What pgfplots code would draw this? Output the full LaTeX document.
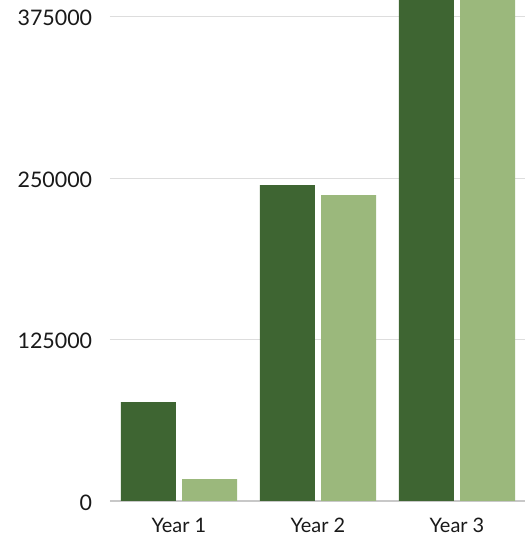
\documentclass[border=0pt]{standalone}
\usepackage{pgfplots}
\pgfplotsset{compat=1.18}
\usepackage{fontspec}
\setmainfont{Lato}
\definecolor{darkg}{HTML}{3E6532}
\definecolor{lightg}{HTML}{9BB87C}
\definecolor{gridg}{HTML}{DDDDDD}
\definecolor{axg}{HTML}{C8C8C8}
\begin{document}
\fontsize{20}{24}\selectfont
\begin{tikzpicture}
\begin{axis}[
  scale only axis,
  width=415bp, height=501bp,
  xmin=-0.496, xmax=2.489,
  ymin=0, ymax=388000,
  xtick={0,1,2},
  xticklabels={Year 1,Year 2,Year 3},
  ytick={0,125000,250000,375000},
  scaled y ticks=false,
  /pgf/number format/.cd, fixed, 1000 sep={}, assume math mode=true,
  /pgfplots/.cd,
  ymajorgrids,
  grid style={gridg, line width=0.8pt},
  axis x line*=bottom,
  axis y line*=left,
  y axis line style={draw=none},
  x axis line style={axg, line width=1.2pt, -},
  major tick length=0pt,
  tick style={draw=none},
  ticklabel style={text=black!90},
  xticklabel style={font=\fontsize{20}{24}\selectfont, yshift=-10bp},
  yticklabel style={font=\fontsize{21.5}{24}\selectfont, xshift=-11bp, yshift=-1.5bp},
  ybar,
  bar width=0.395,
  clip=true,
]
\addplot[fill=darkg, draw=none, bar shift=-0.22] coordinates {(0,76600) (1,244600) (2,450000)};
\addplot[fill=lightg, draw=none, bar shift=0.22] coordinates {(0,17000) (1,236800) (2,430000)};
\end{axis}
\pgfresetboundingbox
\path ([xshift=-110bp,yshift=-40bp]current axis.south west) rectangle (current axis.north east);
\end{tikzpicture}
\end{document}
